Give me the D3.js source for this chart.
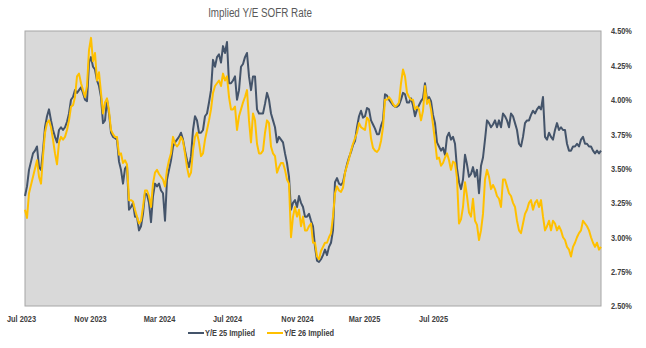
<!DOCTYPE html>
<html>
<head>
<meta charset="utf-8">
<script src="https://cdn.jsdelivr.net/npm/d3@7"></script>
<style>
  body { margin: 0; background: #ffffff; }
  text { font-family: "Liberation Sans", Arial, sans-serif; }
</style>
</head>
<body>
<div id="chart"></div>
<script>
// Y/E 2025 implied SOFR (%) - one value every trading step
var ye25 = [
  3.30,3.37,3.49,3.55,3.61,3.63,3.66,3.51,3.49,3.63,3.80,3.88,3.93,3.85,3.78,3.73,3.69,3.78,
  3.80,3.78,3.80,3.84,3.90,4.00,4.02,4.07,4.05,4.07,4.09,4.05,4.00,3.99,4.27,4.31,4.24,4.22,4.14,4.10,
  4.02,3.83,3.85,4.00,3.90,3.76,3.73,3.72,3.71,3.55,3.49,3.39,3.50,3.52,3.20,3.22,3.25,3.15,3.15,3.05,
  3.08,3.17,3.32,3.31,3.25,3.11,3.30,3.39,3.37,3.39,3.34,3.32,3.12,3.42,3.49,3.56,3.66,3.69,3.71,3.73,
  3.76,3.71,3.63,3.56,3.51,3.59,3.78,3.88,3.85,3.76,3.76,3.78,3.88,3.90,3.98,4.07,4.29,4.24,4.31,4.33,
  4.27,4.39,4.34,4.42,4.12,4.12,4.14,4.17,4.00,4.07,4.24,4.26,4.31,4.34,4.17,4.07,4.17,4.17,3.93,3.90,
  3.90,3.90,3.97,4.05,4.00,3.90,3.85,3.80,3.69,3.73,3.71,3.69,3.61,3.54,3.44,3.20,3.25,3.27,3.22,3.30,
  3.25,3.22,3.15,3.15,3.17,3.12,3.08,2.93,2.83,2.82,2.84,2.87,2.91,2.87,2.93,2.96,3.05,3.40,3.43,3.39,
  3.38,3.40,3.47,3.53,3.58,3.62,3.67,3.70,3.80,3.88,3.92,3.87,3.88,3.94,3.93,3.85,3.82,3.79,3.75,3.75,
  3.81,3.85,4.04,4.03,4.00,3.98,3.96,3.95,3.95,3.96,4.00,4.05,4.04,3.98,3.98,4.01,3.96,3.88,3.93,3.96,
  3.99,4.01,4.12,4.00,4.02,3.99,3.89,3.83,3.69,3.66,3.63,3.65,3.60,3.73,3.76,3.71,3.73,3.68,3.50,3.40,
  3.35,3.42,3.60,3.53,3.44,3.46,3.51,3.44,3.49,3.32,3.52,3.58,3.71,3.85,3.83,3.80,3.82,3.85,3.80,3.85,
  3.80,3.90,3.88,3.85,3.80,3.90,3.88,3.83,3.78,3.68,3.66,3.73,3.83,3.85,3.85,3.89,3.92,3.90,3.93,3.95,
  3.93,4.02,3.73,3.71,3.76,3.73,3.71,3.78,3.83,3.78,3.80,3.78,3.78,3.68,3.63,3.63,3.66,3.66,3.68,3.66,
  3.71,3.73,3.68,3.68,3.66,3.66,3.63,3.61,3.63,3.61,3.63
];

// Y/E 2026 implied SOFR (%)
var ye26 = [
  3.20,3.14,3.32,3.38,3.44,3.50,3.56,3.44,3.39,3.59,3.76,3.83,3.85,3.80,3.71,3.61,3.53,3.69,
  3.73,3.71,3.73,3.78,3.85,3.95,3.96,4.02,4.17,4.19,4.12,4.07,4.02,4.10,4.36,4.45,4.28,4.34,4.14,4.20,
  4.05,3.90,3.98,4.01,3.92,3.78,3.75,3.73,3.73,3.60,3.61,3.54,3.56,3.53,3.27,3.27,3.26,3.20,3.15,3.10,
  3.12,3.22,3.34,3.34,3.30,3.22,3.39,3.47,3.49,3.46,3.44,3.42,3.37,3.49,3.56,3.61,3.73,3.68,3.66,3.68,
  3.73,3.70,3.61,3.51,3.44,3.47,3.63,3.73,3.76,3.69,3.59,3.61,3.71,3.78,3.85,3.93,4.05,4.10,4.12,4.14,
  4.10,4.19,4.14,4.17,4.02,3.93,3.93,3.95,3.78,3.88,3.93,3.98,4.02,4.07,3.85,3.69,3.90,3.85,3.68,3.61,
  3.61,3.63,3.76,3.85,3.83,3.66,3.61,3.59,3.47,3.51,3.54,3.54,3.49,3.42,3.39,3.00,3.15,3.22,3.15,3.20,
  3.08,3.15,3.05,3.05,3.08,3.10,2.96,2.96,2.86,2.84,2.90,2.93,2.96,2.96,3.00,3.03,3.15,3.32,3.37,3.34,
  3.33,3.36,3.47,3.52,3.57,3.63,3.68,3.72,3.76,3.83,3.80,3.79,3.78,3.87,3.85,3.72,3.65,3.63,3.62,3.64,
  3.70,3.80,4.00,4.00,4.02,4.00,3.97,3.95,3.96,3.98,4.12,4.22,4.17,4.05,4.02,4.00,4.00,3.93,3.95,3.93,
  3.85,3.92,4.10,3.97,4.00,3.93,3.82,3.70,3.57,3.58,3.52,3.54,3.58,3.61,3.56,3.49,3.55,3.54,3.43,3.10,
  3.13,3.22,3.40,3.30,3.18,3.15,3.28,3.12,3.09,2.98,3.05,3.17,3.42,3.49,3.44,3.35,3.38,3.35,3.30,3.28,
  3.22,3.42,3.42,3.37,3.32,3.30,3.25,3.22,3.12,3.05,3.03,3.10,3.17,3.20,3.25,3.27,3.20,3.25,3.27,3.22,
  3.27,3.15,3.05,3.08,3.12,3.05,3.12,3.10,3.05,3.08,3.05,3.00,2.98,2.93,2.91,2.86,2.93,2.96,3.00,3.03,
  3.05,3.12,3.10,3.08,3.05,3.00,2.96,2.93,2.96,2.91,2.93
];

// category axis labels and the step index they sit on
var xLabels = ["Jul 2023", "Nov 2023", "Mar 2024", "Jul 2024", "Nov 2024", "Mar 2025", "Jul 2025"];
var xLabelIdx = [-2, 32.5, 67, 101, 136, 169.5, 204];

var yTicks = [2.5, 2.75, 3.0, 3.25, 3.5, 3.75, 4.0, 4.25, 4.5];

var seriesNames = ["Y/E 25 Implied", "Y/E 26 Implied"];
var seriesColors = ["#44546A", "#FFC000"];

var svgWidth = 646;
var svgHeight = 348;

var plot = { left: 25, right: 601, top: 31, bottom: 306 };

// the original uses a narrow font, so squeeze the text horizontally
var narrow = 0.82;

var svg = d3.select("#chart")
  .append("svg")
  .attr("width", svgWidth)
  .attr("height", svgHeight);

var xScale = d3.scaleLinear()
  .domain([0, ye25.length - 1])
  .range([plot.left, plot.right]);

var yScale = d3.scaleLinear()
  .domain([2.5, 4.5])
  .range([plot.bottom, plot.top]);

// grey plot area
svg.append("rect")
  .attr("x", plot.left)
  .attr("y", plot.top)
  .attr("width", plot.right - plot.left)
  .attr("height", plot.bottom - plot.top)
  .attr("fill", "#D9D9D9")
  .attr("stroke", "#A6A6A6")
  .attr("stroke-width", 1);

// title
svg.append("text")
  .attr("x", 260)
  .attr("y", 17)
  .attr("text-anchor", "middle")
  .attr("font-size", "12px")
  .attr("fill", "#595959")
  .text("Implied Y/E SOFR Rate");

// right axis
var rightAxis = d3.axisRight(yScale)
  .tickValues(yTicks)
  .tickSize(0)
  .tickPadding(10)
  .tickFormat(d => d3.format(".2f")(d) + "%");

var yAxis = svg.append("g")
  .attr("transform", `translate(${plot.right}, 0)`)
  .call(rightAxis);
yAxis.select(".domain").remove();
yAxis.selectAll("text")
  .attr("font-size", "9px")
  .attr("font-weight", "bold")
  .attr("fill", "#404040");

// bottom axis
var bottomAxis = d3.axisBottom(xScale)
  .tickValues(xLabelIdx)
  .tickSize(0)
  .tickPadding(10)
  .tickFormat((d, i) => xLabels[i]);

var xAxis = svg.append("g")
  .attr("transform", `translate(0, ${plot.bottom})`)
  .call(bottomAxis);
xAxis.select(".domain").remove();
xAxis.selectAll("text")
  .attr("font-size", "9px")
  .attr("font-weight", "bold")
  .attr("fill", "#404040");

// lines
var line = d3.line()
  .x((d, i) => xScale(i))
  .y(d => yScale(d));

[ye25, ye26].forEach(function(series, k) {
  svg.append("path")
    .datum(series)
    .attr("fill", "none")
    .attr("stroke", seriesColors[k])
    .attr("stroke-width", 2)
    .attr("stroke-linejoin", "round")
    .attr("d", line);
});

// legend
var legendX = [188, 267];
var legend = svg.append("g");
seriesNames.forEach(function(name, k) {
  legend.append("line")
    .attr("x1", legendX[k])
    .attr("x2", legendX[k] + 16)
    .attr("y1", 333)
    .attr("y2", 333)
    .attr("stroke", seriesColors[k])
    .attr("stroke-width", 2);
  legend.append("text")
    .attr("x", legendX[k] + 17)
    .attr("y", 333)
    .attr("dy", "0.35em")
    .attr("font-size", "9px")
    .attr("font-weight", "bold")
    .attr("fill", "#404040")
    .text(name);
});

// squeeze every label to the narrow width
svg.selectAll("text").each(function() {
  var len = this.getComputedTextLength();
  d3.select(this)
    .attr("textLength", len * narrow)
    .attr("lengthAdjust", "spacingAndGlyphs");
});
</script>
</body>
</html>
